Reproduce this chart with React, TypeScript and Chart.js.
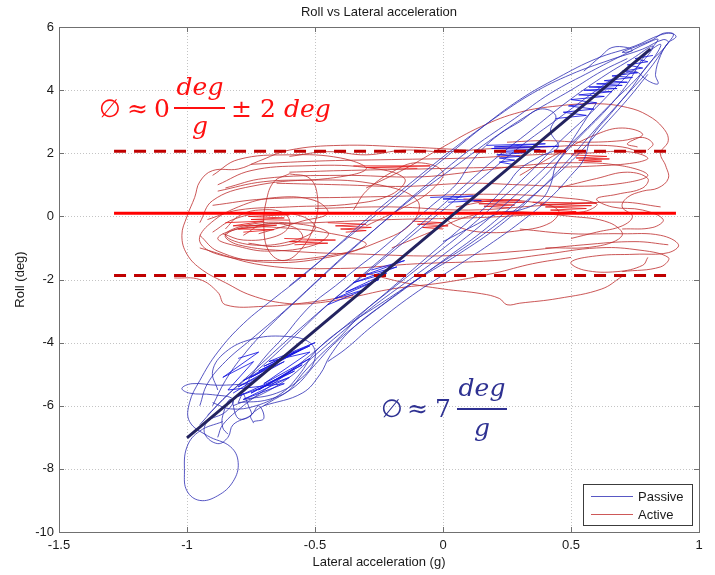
import React, { useEffect, useRef } from "react";
import { Chart, registerables } from "chart.js";
Chart.register(...registerables);

type Pt = [number, number];

// ---- axis / text data ----
const titleText = "Roll vs Lateral acceleration";
const xTitle = "Lateral acceleration (g)";
const yTitle = "Roll (deg)";
const xMin = -1.5, xMax = 1, xStep = 0.5;
const yMin = -10, yMax = 6, yStep = 2;
const xTicks = [-1.5, -1, -0.5, 0, 0.5, 1];
const yTicks = [-10, -8, -6, -4, -2, 0, 2, 4, 6];
const legendLabels = ["Passive", "Active"];

// ---- reference lines ----
const passiveFit: Pt[] = [[-1.0, -7.02], [0.81, 5.3]];
const activeMean: Pt[] = [[-1.285, 0.1], [0.91, 0.1]];
const activeUpper: Pt[] = [[-1.285, 2.06], [0.9, 2.06]];
const activeLower: Pt[] = [[-1.285, -1.87], [0.9, -1.87]];

// ---- Passive traces ----
const passive1: Pt[] = [[-0.86,-6.5],[-0.95,-6.8],[-1.0,-7.3],[-1.01,-8.1],[-1.0,-8.7],[-0.95,-9.0],[-0.88,-8.85],[-0.82,-8.4],[-0.8,-7.8],[-0.83,-7.3],[-0.92,-6.95],[-0.99,-6.5],[-0.99,-5.9],[-0.95,-5.2],[-0.88,-4.3],[-0.78,-3.4],[-0.66,-2.6],[-0.55,-1.9],[-0.42,-1.0],[-0.3,-0.2],[-0.15,0.8],[0.0,1.8],[0.15,2.8],[0.3,3.7],[0.45,4.4],[0.6,5.0],[0.75,5.4],[0.85,5.75],[0.9,5.78],[0.87,5.4],[0.8,4.6],[0.7,3.7],[0.6,2.8],[0.48,1.7],[0.36,0.7],[0.22,-0.3],[0.06,-1.2],[-0.1,-2.0],[-0.25,-2.8],[-0.4,-3.6],[-0.5,-4.3],[-0.56,-5.0],[-0.63,-5.6],[-0.73,-6.0],[-0.83,-6.1],[-0.9,-5.9]];
const passive2: Pt[] = [[-0.75,-5.3],[-0.88,-5.35],[-0.98,-5.3],[-1.02,-5.45],[-0.99,-5.6],[-0.9,-5.65],[-0.82,-5.8],[-0.85,-6.2],[-0.92,-6.5],[-0.93,-6.9],[-0.88,-7.2],[-0.84,-7.0],[-0.82,-6.6],[-0.75,-6.3],[-0.72,-6.0],[-0.7,-6.4],[-0.74,-6.5]];
const passive3: Pt[] = [[-0.9,-6.0],[-0.85,-5.2],[-0.78,-4.4],[-0.68,-3.5],[-0.55,-2.5],[-0.43,-1.6],[-0.32,-0.8],[-0.18,0.2],[-0.02,1.3],[0.12,2.2],[0.28,3.1],[0.42,3.9],[0.58,4.6],[0.7,5.1],[0.8,5.5],[0.84,5.6],[0.78,5.0],[0.72,4.2],[0.64,3.4],[0.52,2.4],[0.4,1.3],[0.28,0.4],[0.15,-0.5],[0.0,-1.4],[-0.15,-2.3],[-0.3,-3.2],[-0.42,-4.0],[-0.5,-4.7],[-0.58,-5.4],[-0.68,-5.8],[-0.8,-5.9]];
const passive4: Pt[] = [[-0.6,-2.2],[-0.45,-1.2],[-0.3,-0.1],[-0.12,1.1],[0.05,2.2],[0.2,3.1],[0.35,3.9],[0.5,4.5],[0.65,4.95],[0.78,5.3],[0.86,5.6],[0.88,5.5],[0.8,4.8],[0.74,4.1],[0.66,3.3],[0.58,2.5],[0.55,1.8],[0.5,1.3],[0.42,0.6],[0.3,-0.2],[0.18,-0.9],[0.05,-1.6],[-0.12,-2.5],[-0.28,-3.5],[-0.38,-4.2],[-0.45,-4.6]];
const passive5: Pt[] = [[-0.95,-6.6],[-0.86,-5.8],[-0.74,-4.9],[-0.62,-4.0],[-0.48,-3.0],[-0.35,-2.1],[-0.22,-1.2],[-0.08,-0.2],[0.06,0.8],[0.2,1.8],[0.34,2.7],[0.48,3.6],[0.62,4.4],[0.74,5.0],[0.82,5.4],[0.79,5.0],[0.7,4.3],[0.58,3.3],[0.46,2.4],[0.34,1.4],[0.22,0.5],[0.08,-0.5],[-0.06,-1.4],[-0.2,-2.3],[-0.34,-3.2],[-0.46,-4.0],[-0.58,-4.8],[-0.68,-5.4],[-0.78,-6.0],[-0.86,-6.6],[-0.88,-7.0]];
const passive6: Pt[] = [[-0.8,-5.9],[-0.76,-5.2],[-0.7,-4.5],[-0.62,-3.8],[-0.56,-3.2],[-0.5,-2.7],[-0.42,-2.2],[-0.33,-1.6],[-0.25,-1.1],[-0.15,-0.4],[-0.05,0.3],[0.05,1.0],[0.1,1.6],[0.15,2.1],[0.22,2.6],[0.3,3.0],[0.38,3.4],[0.44,3.2],[0.42,2.7],[0.45,2.2],[0.38,1.9],[0.3,1.5],[0.25,1.0],[0.18,0.4],[0.08,-0.3],[-0.02,-1.0],[-0.12,-1.7],[-0.22,-2.4],[-0.32,-3.1],[-0.4,-3.8],[-0.48,-4.4],[-0.55,-5.0],[-0.6,-5.5],[-0.68,-5.9],[-0.75,-6.3],[-0.74,-6.55]];
const passive7: Pt[] = [[0.55,4.6],[0.62,5.1],[0.66,5.35],[0.72,5.35],[0.74,5.25],[0.7,5.2],[0.76,5.4],[0.82,5.6],[0.86,5.8],[0.9,5.78],[0.91,5.68],[0.88,5.5],[0.85,5.1],[0.83,4.5],[0.84,4.2],[0.8,4.3],[0.75,4.6],[0.7,4.5]];
const passive8: Pt[] = [[0.0,-0.8],[0.12,-0.3],[0.22,0.1],[0.3,0.2],[0.38,0.5],[0.42,1.0],[0.44,1.6],[0.48,2.1],[0.52,2.6],[0.56,3.1],[0.6,3.6]];
const passive9: Pt[] = [[-0.78,-5.6],[-0.76,-6.0],[-0.75,-6.3],[-0.8,-6.4],[-0.83,-5.8],[-0.86,-6.3],[-0.86,-6.7],[-0.84,-6.9]];
const passive10: Pt[] = [[-0.92,-6.3],[-0.82,-5.5],[-0.7,-4.7],[-0.58,-3.8],[-0.45,-2.8],[-0.3,-1.8],[-0.15,-0.8],[0.0,0.2],[0.15,1.2],[0.3,2.2],[0.45,3.1],[0.6,4.0],[0.72,4.7],[0.8,5.2],[0.85,5.45],[0.83,5.1],[0.76,4.4],[0.66,3.6],[0.55,2.7],[0.42,1.7],[0.3,0.8],[0.16,-0.2],[0.02,-1.1],[-0.13,-2.0],[-0.28,-2.9],[-0.4,-3.7],[-0.5,-4.4],[-0.6,-5.1],[-0.7,-5.6],[-0.82,-6.0]];
const passive11: Pt[] = [[-0.7,-6.0],[-0.55,-5.6],[-0.48,-5.0],[-0.44,-4.4],[-0.36,-3.6],[-0.22,-2.7],[-0.05,-1.7],[0.1,-0.9],[0.25,0.0],[0.4,1.0],[0.52,1.9],[0.62,2.8],[0.72,3.7],[0.8,4.5]];
const passive12: Pt[] = [[-0.95,-6.0],[-0.92,-5.3],[-0.85,-4.6],[-0.75,-3.9],[-0.62,-3.0],[-0.5,-2.1],[-0.38,-1.2],[-0.25,-0.3],[-0.1,0.7],[0.05,1.6],[0.2,2.5],[0.35,3.3],[0.5,4.0],[0.62,4.6],[0.72,5.0]];
const passive13: Pt[] = [[-0.88,-5.5],[-0.9,-4.9],[-0.85,-4.3],[-0.75,-3.9],[-0.62,-3.8],[-0.52,-4.0],[-0.5,-4.5],[-0.55,-5.1],[-0.65,-5.6],[-0.78,-5.8]];
const passiveHatch1: Pt[] = [[0.44,3.1],[0.56,3.2],[0.47,3.3],[0.59,3.4],[0.49,3.5],[0.6,3.6],[0.5,3.7],[0.63,3.8],[0.53,3.85],[0.66,3.95],[0.55,4.0],[0.68,4.05],[0.57,4.1],[0.7,4.15],[0.6,4.2],[0.72,4.25],[0.63,4.3],[0.74,4.4],[0.66,4.45],[0.76,4.55],[0.7,4.6],[0.78,4.7],[0.72,4.8],[0.8,4.9],[0.75,5.0],[0.82,5.1]];
const passiveHatch2: Pt[] = [[0.17,2.25],[0.4,2.3],[0.2,2.2],[0.45,2.22],[0.19,2.15],[0.38,2.12],[0.2,2.05],[0.33,2.02],[0.21,1.95],[0.3,1.9],[0.22,1.85],[0.28,1.78],[0.22,1.72],[0.27,1.65]];
const passiveHatch3: Pt[] = [[-0.82,-5.6],[-0.7,-5.0],[-0.8,-5.4],[-0.62,-4.6],[-0.78,-5.2],[-0.58,-4.3],[-0.75,-5.1],[-0.55,-4.2],[-0.72,-4.9],[-0.52,-4.1],[-0.7,-4.75],[-0.5,-4.0],[-0.68,-4.6],[-0.52,-4.3],[-0.7,-5.3],[-0.52,-4.5],[-0.72,-5.5],[-0.55,-4.7],[-0.75,-5.6],[-0.58,-4.9],[-0.8,-5.7],[-0.6,-5.1],[-0.78,-5.8],[-0.62,-5.3],[-0.84,-5.5],[-0.74,-4.6],[-0.86,-5.1],[-0.72,-4.3],[-0.8,-4.5]];
const passiveHatch4: Pt[] = [[-0.45,-2.8],[-0.3,-2.3],[-0.42,-2.6],[-0.25,-2.0],[-0.38,-2.4],[-0.22,-1.8],[-0.35,-2.1],[-0.18,-1.6],[-0.32,-1.9],[-0.15,-1.4],[-0.28,-1.7]];
const passiveHatch5: Pt[] = [[-0.05,0.6],[0.12,0.65],[0.0,0.55],[0.15,0.5],[0.02,0.45]];

// ---- Active traces ----
const active1: Pt[] = [[0.1,2.1],[-0.15,2.2],[-0.4,2.25],[-0.6,2.1],[-0.72,1.75],[-0.8,1.5],[-0.9,1.45],[-0.95,1.1],[-0.97,0.6],[-1.0,0.0],[-1.02,-0.6],[-1.0,-1.2],[-0.94,-1.7],[-0.85,-2.1],[-0.75,-2.5],[-0.62,-2.75],[-0.5,-2.75],[-0.35,-2.55],[-0.2,-2.3],[0.0,-2.1],[0.2,-1.8],[0.35,-1.5],[0.5,-1.3]];
const active2: Pt[] = [[-0.3,0.9],[-0.15,1.5],[0.0,2.2],[0.15,2.85],[0.3,3.3],[0.45,3.5],[0.6,3.57],[0.72,3.45],[0.8,3.2],[0.86,2.8],[0.88,2.4],[0.85,2.0],[0.87,1.6],[0.88,1.2],[0.84,0.9],[0.78,0.8],[0.72,0.6],[0.7,0.3],[0.74,0.0],[0.7,-0.3],[0.6,-0.5],[0.5,-0.7]];
const active3: Pt[] = [[0.3,-0.4],[0.5,-0.55],[0.7,-0.55],[0.85,-0.6],[0.92,-0.9],[0.88,-1.15],[0.75,-1.2],[0.6,-1.25],[0.5,-1.45],[0.55,-1.7],[0.68,-1.75],[0.78,-1.55],[0.8,-1.3]];
const active4: Pt[] = [[0.7,-1.9],[0.62,-2.3],[0.45,-2.6],[0.3,-2.75],[0.25,-2.8],[0.22,-2.6],[0.15,-2.45],[0.0,-2.3],[-0.15,-2.1],[-0.3,-1.8]];
const active5: Pt[] = [[-0.9,0.35],[-0.7,0.55],[-0.4,0.6],[-0.1,0.65],[0.2,0.7],[0.45,0.6],[0.6,0.4],[0.55,0.15],[0.35,0.05],[0.1,-0.05],[-0.2,-0.1],[-0.5,-0.2],[-0.75,-0.3],[-0.85,-0.6],[-0.8,-0.9],[-0.6,-1.1],[-0.3,-1.2],[0.0,-1.25],[0.3,-1.1],[0.55,-0.9],[0.75,-0.8],[0.88,-0.9]];
const active6: Pt[] = [[-0.85,0.9],[-0.7,1.2],[-0.4,1.3],[-0.1,1.25],[0.1,1.4],[0.3,1.6],[0.5,1.7],[0.7,1.6],[0.8,1.3],[0.7,1.05],[0.5,0.95],[0.3,1.0],[0.1,1.05],[-0.15,0.95],[-0.4,1.0],[-0.65,1.05]];
const active7: Pt[] = [[-0.75,1.65],[-0.5,1.75],[-0.2,1.8],[0.1,1.85],[0.35,1.95],[0.55,2.0],[0.72,2.05],[0.8,1.85],[0.75,1.7],[0.6,1.6],[0.4,1.55],[0.2,1.55],[-0.1,1.5],[-0.4,1.45],[-0.6,1.4]];
const active8: Pt[] = [[-0.9,-0.5],[-0.82,-0.1],[-0.7,0.1],[-0.55,0.0],[-0.5,-0.4],[-0.6,-0.8],[-0.75,-0.9],[-0.85,-0.6],[-0.78,-0.3],[-0.62,-0.2],[-0.45,-0.5],[-0.5,-0.9],[-0.68,-1.1],[-0.8,-0.95],[-0.88,-0.7],[-0.8,-0.4],[-0.65,-0.35],[-0.4,-0.6],[-0.3,-0.9],[-0.45,-1.25],[-0.7,-1.4],[-0.88,-1.2],[-0.95,-0.8],[-0.92,-0.3],[-0.8,0.3],[-0.65,0.6],[-0.5,0.5],[-0.45,0.1],[-0.55,-0.15],[-0.72,-0.55]];
const active9: Pt[] = [[-0.6,1.35],[-0.52,1.2],[-0.49,0.6],[-0.5,-0.2],[-0.55,-1.0],[-0.62,-1.4],[-0.68,-1.1],[-0.7,-0.3],[-0.69,0.5],[-0.66,1.1],[-0.6,1.35]];
const active10: Pt[] = [[0.05,0.3],[0.2,0.5],[0.35,0.45],[0.45,0.2],[0.42,-0.2],[0.3,-0.45],[0.15,-0.5],[0.05,-0.3],[0.0,0.0]];
const active11: Pt[] = [[0.45,0.9],[0.6,1.2],[0.72,1.4],[0.8,1.2],[0.78,0.9],[0.68,0.7],[0.6,0.55],[0.66,0.3],[0.78,0.2],[0.86,-0.1],[0.82,-0.35],[0.7,-0.4]];
const active12: Pt[] = [[-1.05,-1.95],[-0.95,-2.0],[-0.88,-2.4],[-0.85,-2.8],[-0.7,-2.85],[-0.5,-2.7],[-0.35,-2.5]];
const active13: Pt[] = [[-0.95,-0.2],[-0.9,0.5],[-0.75,0.95],[-0.5,1.15],[-0.25,1.0],[-0.1,0.5],[-0.12,-0.2],[-0.25,-0.8],[-0.45,-1.3],[-0.7,-1.45],[-0.88,-1.1],[-0.95,-0.6]];
const active14: Pt[] = [[-0.88,1.0],[-0.75,1.45],[-0.55,1.6],[-0.3,1.55],[-0.15,1.2],[-0.2,0.7],[-0.35,0.4],[-0.6,0.3],[-0.8,0.2],[-0.92,-0.1]];
const active15: Pt[] = [[-0.6,1.9],[-0.45,2.05],[-0.3,1.95],[-0.15,2.1],[0.0,2.05],[0.2,2.15],[0.4,2.2],[0.55,2.25],[0.7,2.2],[0.78,2.0]];
const active16: Pt[] = [[-0.95,-1.0],[-0.7,-1.55],[-0.4,-1.65],[-0.1,-1.5],[0.2,-1.4],[0.4,-1.2],[0.6,-1.0],[0.75,-1.05],[0.88,-1.3],[0.85,-1.6],[0.7,-1.75]];
const active17: Pt[] = [[-0.2,-1.0],[-0.05,-0.5],[0.1,0.0],[0.25,0.15],[0.5,0.0],[0.65,-0.2],[0.7,-0.6],[0.6,-0.95],[0.4,-1.0]];
const active18: Pt[] = [[-0.85,-0.4],[-0.8,0.0],[-0.72,0.2],[-0.62,0.1],[-0.6,-0.3],[-0.66,-0.65],[-0.78,-0.75],[-0.86,-0.55]];
const active19: Pt[] = [[-0.78,-0.6],[-0.7,-0.25],[-0.58,-0.35],[-0.55,-0.7],[-0.65,-0.95],[-0.76,-0.85]];
const active20: Pt[] = [[0.25,2.35],[0.4,2.4],[0.55,2.35],[0.7,2.4],[0.78,2.5],[0.82,2.3],[0.8,2.1]];
const active21: Pt[] = [[-0.5,0.25],[-0.2,0.3],[0.1,0.2],[0.4,0.35],[0.7,0.45],[0.85,0.3]];
const active22: Pt[] = [[-0.9,1.3],[-0.8,1.8],[-0.6,1.95],[-0.4,1.85],[-0.3,1.5],[-0.45,1.2],[-0.7,1.1],[-0.88,0.8]];
const active23: Pt[] = [[-0.35,0.2],[-0.3,0.8],[-0.2,1.4],[-0.1,1.7],[0.0,1.4],[-0.05,0.8],[-0.15,0.3],[-0.3,-0.3]];
const active24: Pt[] = [[0.3,1.3],[0.45,2.0],[0.6,2.6],[0.7,2.8],[0.78,2.6],[0.72,2.3],[0.76,2.2]];
const activeHatch1: Pt[] = [[0.5,1.95],[0.64,1.9],[0.52,1.85],[0.65,1.82],[0.53,1.78],[0.62,1.75],[0.55,1.72]];
const activeHatch2: Pt[] = [[0.08,0.55],[0.3,0.52],[0.12,0.48],[0.32,0.45],[0.14,0.4],[0.28,0.36],[0.16,0.32],[0.26,0.28]];
const activeHatch3: Pt[] = [[0.35,0.45],[0.6,0.42],[0.38,0.38],[0.58,0.34],[0.4,0.3],[0.56,0.25],[0.42,0.2],[0.52,0.15],[0.45,0.1]];
const activeHatch4: Pt[] = [[-0.12,-0.15],[0.0,-0.2],[-0.1,-0.25],[0.02,-0.3],[-0.08,-0.35],[0.0,-0.4]];
const activeHatch5: Pt[] = [[-0.45,-0.2],[-0.3,-0.25],[-0.42,-0.3],[-0.28,-0.35],[-0.4,-0.4],[-0.3,-0.45],[-0.38,-0.5]];
const activeHatch6: Pt[] = [[-0.85,-0.2],[-0.7,-0.15],[-0.82,-0.3],[-0.65,-0.28],[-0.8,-0.4],[-0.66,-0.42],[-0.78,-0.5]];
const activeHatch7: Pt[] = [[-0.35,1.6],[-0.05,1.6],[-0.3,1.55],[-0.1,1.52]];
const activeHatch8: Pt[] = [[-0.78,0.1],[-0.6,0.05],[-0.76,0.0],[-0.62,-0.05],[-0.75,-0.1],[-0.6,-0.12]];
const activeHatch9: Pt[] = [[-0.62,-0.7],[-0.42,-0.75],[-0.6,-0.8],[-0.45,-0.85],[-0.58,-0.9]];

const passiveCurves = [passive1, passive2, passive3, passive4, passive5, passive6, passive7, passive8, passive9, passive10, passive11, passive12, passive13];
const passiveHatches = [passiveHatch1, passiveHatch2, passiveHatch3, passiveHatch4, passiveHatch5];
const activeCurves = [active1, active2, active3, active4, active5, active6, active7, active8, active9, active10, active11, active12, active13, active14, active15, active16, active17, active18, active19, active20, active21, active22, active23, active24];
const activeHatches = [activeHatch1, activeHatch2, activeHatch3, activeHatch4, activeHatch5, activeHatch6, activeHatch7, activeHatch8, activeHatch9];

const PASSIVE_COLOR = "rgba(45,45,180,0.8)";
const PASSIVE_HATCH = "rgba(20,20,225,0.85)";
const ACTIVE_COLOR = "rgba(190,45,45,0.8)";
const ACTIVE_HATCH = "rgba(230,25,25,0.85)";

const toXY = (pts: Pt[]) => pts.map(([x, y]) => ({ x, y }));

function line(pts: Pt[], color: string, width: number, order: number, tension: number, dash: number[] = []) {
  return {
    data: toXY(pts),
    showLine: true,
    borderColor: color,
    backgroundColor: color,
    borderWidth: width,
    borderDash: dash,
    pointRadius: 0,
    tension,
    order,
    fill: false,
  };
}

const decorPlugin = {
  id: "decor",
  beforeDatasetsDraw(chart: any) {
    const { ctx, chartArea: a, scales } = chart;
    ctx.save();
    ctx.strokeStyle = "#c4c4c4";
    ctx.lineWidth = 1;
    ctx.setLineDash([1, 2]);
    xTicks.forEach((v) => {
      const px = Math.round(scales.x.getPixelForValue(v)) + 0.5;
      ctx.beginPath(); ctx.moveTo(px, a.top); ctx.lineTo(px, a.bottom); ctx.stroke();
    });
    yTicks.forEach((v) => {
      const py = Math.round(scales.y.getPixelForValue(v)) + 0.5;
      ctx.beginPath(); ctx.moveTo(a.left, py); ctx.lineTo(a.right, py); ctx.stroke();
    });
    ctx.restore();
  },
  afterDatasetsDraw(chart: any) {
    const { ctx, chartArea: a, scales } = chart;
    ctx.save();
    // frame
    ctx.setLineDash([]);
    ctx.strokeStyle = "#707070";
    ctx.lineWidth = 1;
    ctx.strokeRect(Math.round(a.left) + 0.5, Math.round(a.top) + 0.5, Math.round(a.right - a.left), Math.round(a.bottom - a.top));
    const tl = 5;
    xTicks.forEach((v) => {
      const px = Math.round(scales.x.getPixelForValue(v)) + 0.5;
      ctx.beginPath(); ctx.moveTo(px, a.bottom); ctx.lineTo(px, a.bottom - tl);
      ctx.moveTo(px, a.top); ctx.lineTo(px, a.top + tl); ctx.stroke();
    });
    yTicks.forEach((v) => {
      const py = Math.round(scales.y.getPixelForValue(v)) + 0.5;
      ctx.beginPath(); ctx.moveTo(a.left, py); ctx.lineTo(a.left + tl, py);
      ctx.moveTo(a.right, py); ctx.lineTo(a.right - tl, py); ctx.stroke();
    });

    // titles
    ctx.fillStyle = "#1a1a1a";
    ctx.font = "13px 'Liberation Sans', Arial, sans-serif";
    ctx.textAlign = "center";
    ctx.textBaseline = "middle";
    const cx = (a.left + a.right) / 2;
    ctx.fillText(titleText, cx, 12);
    ctx.fillText(xTitle, cx, 562);
    ctx.save();
    ctx.translate(20, (a.top + a.bottom) / 2);
    ctx.rotate(-Math.PI / 2);
    ctx.fillText(yTitle, 0, 0);
    ctx.restore();

    // legend
    const lx = 583.5, ly = 484.5, lw = 109, lh = 41;
    ctx.fillStyle = "#ffffff";
    ctx.fillRect(lx, ly, lw, lh);
    ctx.strokeStyle = "#3c3c3c";
    ctx.strokeRect(lx, ly, lw, lh);
    const rows = [
      { label: legendLabels[0], color: "rgba(70,70,190,0.9)", y: 496 },
      { label: legendLabels[1], color: "rgba(200,70,70,0.9)", y: 514 },
    ];
    rows.forEach((r) => {
      ctx.strokeStyle = r.color;
      ctx.lineWidth = 1;
      ctx.beginPath(); ctx.moveTo(591, r.y + 0.5); ctx.lineTo(633, r.y + 0.5); ctx.stroke();
      ctx.fillStyle = "#1a1a1a";
      ctx.textAlign = "left";
      ctx.textBaseline = "middle";
      ctx.font = "13px 'Liberation Sans', Arial, sans-serif";
      ctx.fillText(r.label, 638, r.y + 1);
    });

    // formulas
    const up = "25px 'DejaVu Serif', serif";
    const it = "italic 25px 'DejaVu Serif', serif";
    const put = (t: string, x: number, y: number, font: string, align: CanvasTextAlign = "left") => {
      ctx.font = font; ctx.textAlign = align; ctx.textBaseline = "alphabetic"; ctx.fillText(t, x, y);
    };
    // red
    ctx.fillStyle = "#ff1010";
    ctx.strokeStyle = "#ff1010";
    put("∅", 99, 117, up);
    put("≈", 127, 117, up);
    put("0", 154, 117, up);
    ctx.lineWidth = 2;
    ctx.beginPath(); ctx.moveTo(174, 108); ctx.lineTo(225, 108); ctx.stroke();
    put("deg", 200, 95, it, "center");
    put("g", 200, 134, it, "center");
    put("±", 231, 117, up);
    put("2", 260, 117, up);
    put("deg", 284, 117, it);
    // blue
    ctx.fillStyle = "#2e3192";
    ctx.strokeStyle = "#2e3192";
    put("∅", 381, 417, up);
    put("≈", 407, 417, up);
    put("7", 435, 417, up);
    ctx.beginPath(); ctx.moveTo(457, 409); ctx.lineTo(507, 409); ctx.stroke();
    put("deg", 482, 396, it, "center");
    put("g", 482, 436, it, "center");
    ctx.restore();
  },
};

export default function App() {
  const ref = useRef<HTMLCanvasElement | null>(null);
  useEffect(() => {
    if (!ref.current) return;
    const datasets: any[] = [];
    datasets.push(line(passiveFit, "#23235f", 3, 0, 0));
    datasets.push(line(activeMean, "#ff0000", 3, 0, 0));
    datasets.push(line(activeUpper, "#c00000", 3, 0, 0, [12, 8]));
    datasets.push(line(activeLower, "#c00000", 3, 0, 0, [12, 8]));
    passiveHatches.forEach((p) => datasets.push(line(p, PASSIVE_HATCH, 1, 1, 0)));
    passiveCurves.forEach((p) => datasets.push(line(p, PASSIVE_COLOR, 1, 2, 0.4)));
    activeHatches.forEach((p) => datasets.push(line(p, ACTIVE_HATCH, 1, 3, 0)));
    activeCurves.forEach((p) => datasets.push(line(p, ACTIVE_COLOR, 1, 4, 0.4)));

    const tickFont = { family: "'Liberation Sans', Arial, sans-serif", size: 13 };
    const fmt = (v: any) => String(Number(v));
    const chart = new Chart(ref.current, {
      type: "scatter",
      data: { datasets },
      options: {
        responsive: false,
        animation: false,
        events: [],
        layout: { padding: { top: 27, right: 16, left: 0, bottom: 0 } },
        plugins: { legend: { display: false }, title: { display: false }, tooltip: { enabled: false } },
        scales: {
          x: {
            type: "linear",
            min: xMin, max: xMax,
            ticks: { stepSize: xStep, font: tickFont, color: "#1a1a1a", padding: 6, maxRotation: 0, callback: fmt },
            grid: { display: false, drawTicks: false },
            border: { display: false },
            afterFit: (s: any) => { s.height = 43; },
          },
          y: {
            type: "linear",
            min: yMin, max: yMax,
            ticks: { stepSize: yStep, font: tickFont, color: "#1a1a1a", padding: 5, callback: fmt },
            grid: { display: false, drawTicks: false },
            border: { display: false },
            afterFit: (s: any) => { s.width = 59; },
          },
        },
      } as any,
      plugins: [decorPlugin],
    });
    return () => chart.destroy();
  }, []);
  return (
    <div style={{ position: "fixed", left: 0, top: 0, width: 715, height: 575, background: "#fff" }}>
      <canvas ref={ref} width={715} height={575} style={{ width: 715, height: 575 }} />
    </div>
  );
}
